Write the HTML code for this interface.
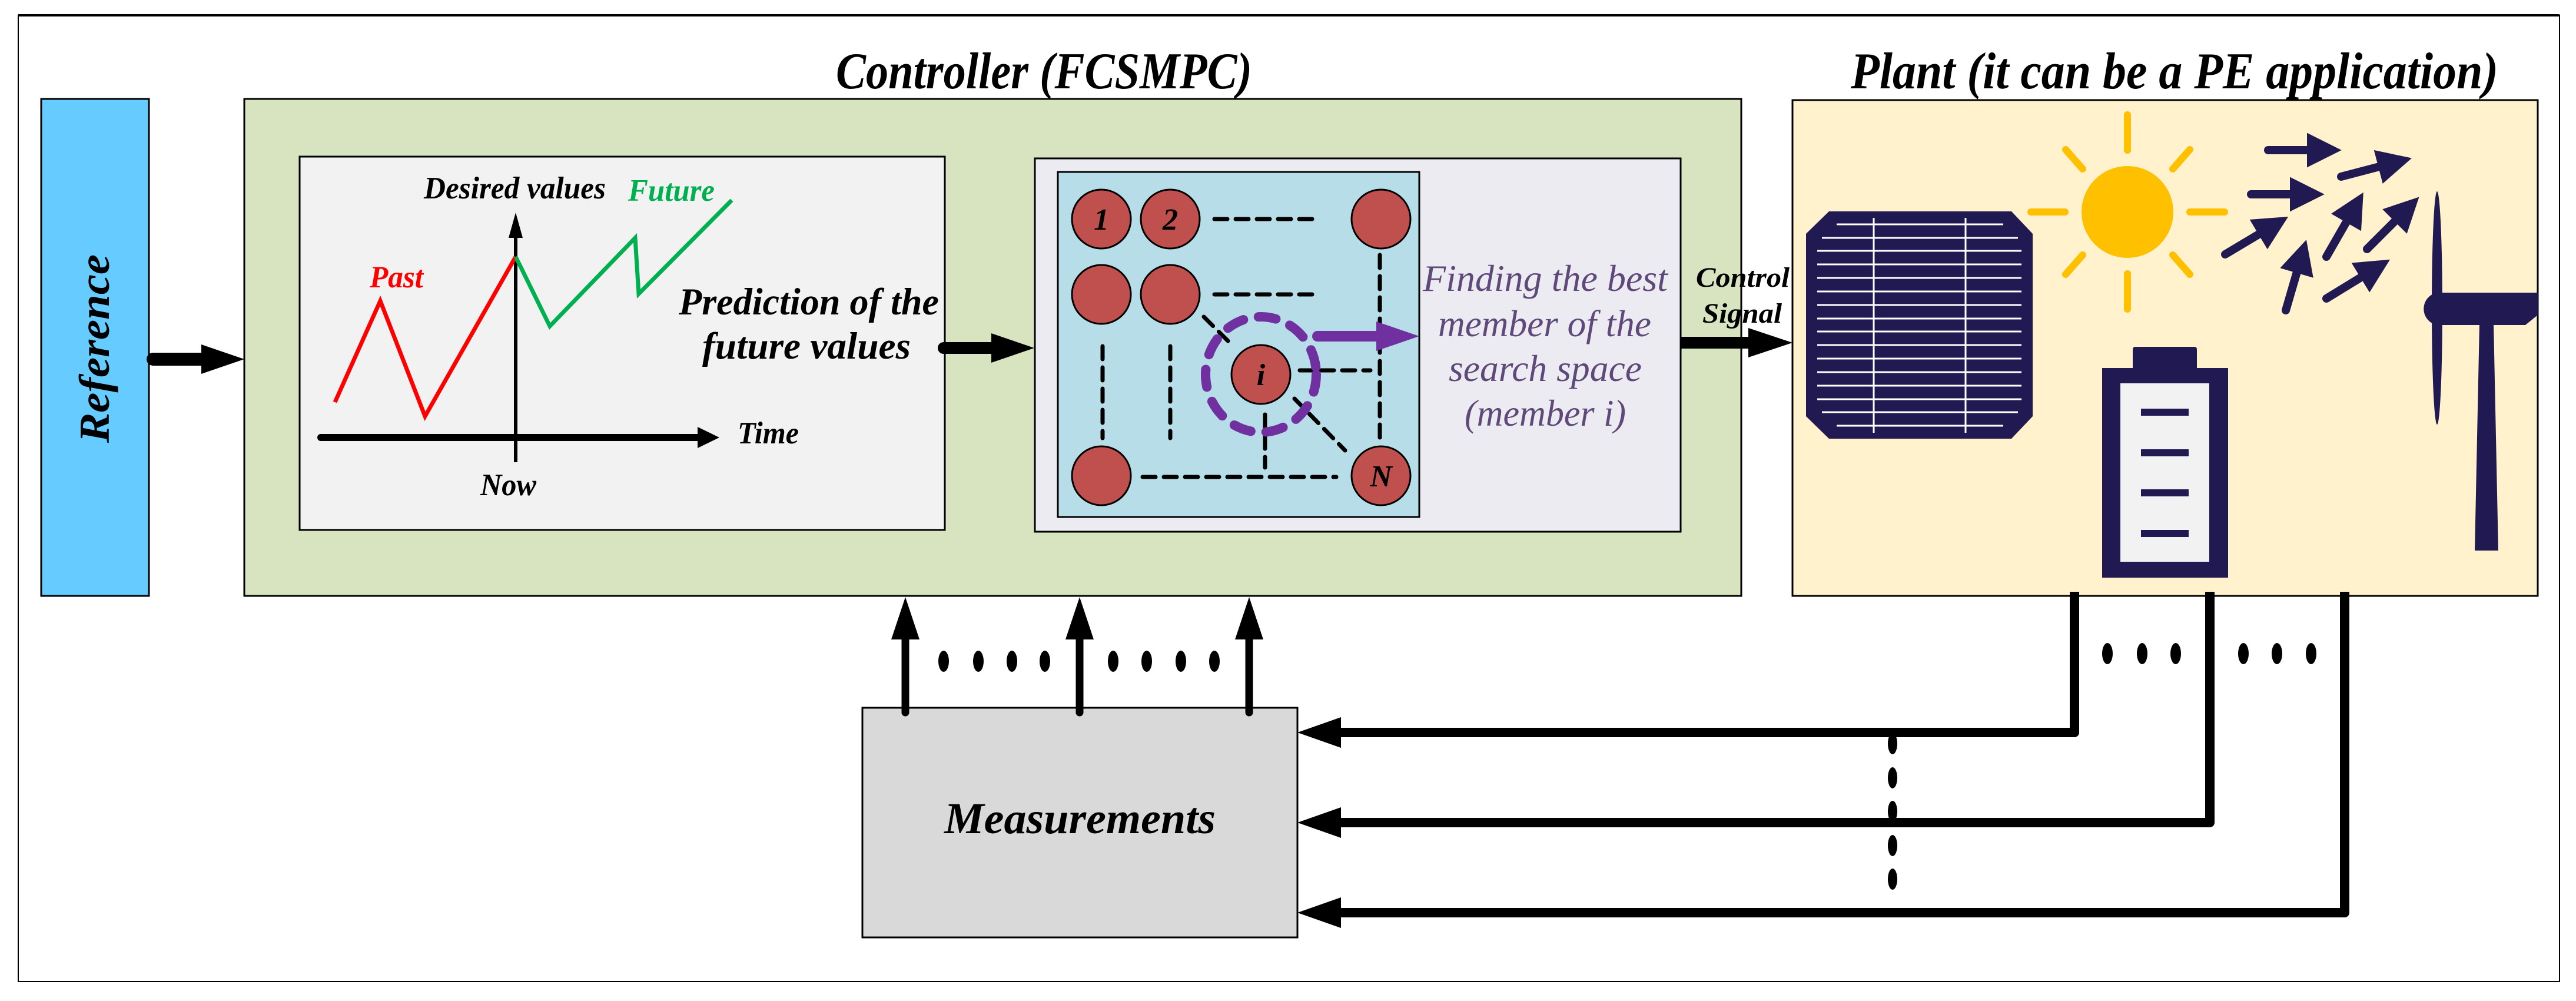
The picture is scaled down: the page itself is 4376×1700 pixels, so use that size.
<!DOCTYPE html>
<html><head><meta charset="utf-8"><style>html,body{margin:0;padding:0;background:#fff}svg{display:block}text{font-family:"Liberation Serif","Times New Roman",serif;font-style:italic;font-weight:bold}text.n{font-weight:normal}</style></head><body>
<svg width="4376" height="1700" viewBox="0 0 4376 1700" xmlns="http://www.w3.org/2000/svg" font-family="Liberation Serif, serif">
<rect x="31" y="26" width="4317" height="1641" fill="#fff" stroke="#000" stroke-width="2"/>
<line x1="31" y1="26" x2="4348" y2="26" stroke="#000" stroke-width="4"/>
<!-- Reference -->
<rect x="70" y="168" width="183" height="844" fill="#66ccff" stroke="#000" stroke-width="3"/>
<text transform="translate(185,752) rotate(-90)" font-size="73" textLength="320" lengthAdjust="spacingAndGlyphs">Reference</text>
<!-- titles -->
<text x="1420" y="150" font-size="88" textLength="707" lengthAdjust="spacingAndGlyphs">Controller (FCSMPC)</text>
<text x="3144" y="150" font-size="88" textLength="1100" lengthAdjust="spacingAndGlyphs">Plant (it can be a PE application)</text>
<!-- controller -->
<rect x="415" y="168" width="2543" height="844" fill="#d8e4bf" stroke="#000" stroke-width="3"/>
<rect x="3045" y="170" width="1266" height="842" fill="#fff2cc" stroke="#000" stroke-width="3"/>
<!-- left inner -->
<rect x="509" y="266" width="1096" height="634" fill="#f2f2f2" stroke="#000" stroke-width="3"/>
<line x1="876" y1="400" x2="876" y2="785" stroke="#000" stroke-width="6"/>
<polygon points="876,361 864,404 888,404" fill="#000"/>
<line x1="545" y1="743" x2="1190" y2="743" stroke="#000" stroke-width="12" stroke-linecap="round"/>
<polygon points="1222,743 1185,725 1185,761" fill="#000"/>
<polyline points="569,683 646,511 722,707 876,436" fill="none" stroke="#ff0000" stroke-width="7"/>
<polyline points="876,436 934,554 1079,404 1085,499 1243,340" fill="none" stroke="#00b050" stroke-width="7"/>
<text x="720" y="337" font-size="53" textLength="309" lengthAdjust="spacingAndGlyphs">Desired values</text>
<text x="1067" y="341" font-size="53" fill="#00b050" textLength="147" lengthAdjust="spacingAndGlyphs">Future</text>
<text x="628" y="488" font-size="53" fill="#ff0000" textLength="91" lengthAdjust="spacingAndGlyphs">Past</text>
<text x="1253" y="753" font-size="53" textLength="104" lengthAdjust="spacingAndGlyphs">Time</text>
<text x="816" y="841" font-size="53" textLength="95" lengthAdjust="spacingAndGlyphs">Now</text>
<text x="1153" y="534" font-size="65" textLength="442" lengthAdjust="spacingAndGlyphs">Prediction of the</text>
<text x="1193" y="609" font-size="65" textLength="354" lengthAdjust="spacingAndGlyphs">future values</text>
<!-- arrows -->
<line x1="260" y1="610" x2="345" y2="610" stroke="#000" stroke-width="22" stroke-linecap="round"/>
<polygon points="342,585 415,610 342,635" fill="#000"/>
<line x1="1603" y1="591" x2="1690" y2="591" stroke="#000" stroke-width="20" stroke-linecap="round"/>
<polygon points="1684,566 1757,591 1684,616" fill="#000"/>
<line x1="2852" y1="582" x2="2975" y2="582" stroke="#000" stroke-width="20" stroke-linecap="round"/>
<polygon points="2970,557 3045,582 2970,607" fill="#000"/>
<text x="2881" y="487" font-size="48" textLength="159" lengthAdjust="spacingAndGlyphs">Control</text>
<text x="2892" y="548" font-size="48" textLength="135" lengthAdjust="spacingAndGlyphs">Signal</text>
<!-- right inner -->
<rect x="1758" y="269" width="1097" height="634" fill="#edebf2" stroke="#000" stroke-width="3"/>
<rect x="1797" y="292" width="614" height="586" fill="#b7dde8" stroke="#000" stroke-width="3"/>
<g stroke="#000" stroke-width="7" stroke-dasharray="22,14" fill="none" stroke-linecap="round">
<line x1="2063" y1="372" x2="2241" y2="372"/>
<line x1="2063" y1="500" x2="2241" y2="500"/>
<line x1="2344" y1="433" x2="2344" y2="746"/>
<line x1="1873" y1="588" x2="1873" y2="744"/>
<line x1="1988" y1="588" x2="1988" y2="744"/>
<line x1="1941" y1="810" x2="2270" y2="810"/>
<line x1="2045" y1="538" x2="2088" y2="581"/>
<line x1="2208" y1="629" x2="2328" y2="629"/>
<line x1="2149" y1="704" x2="2149" y2="794"/>
<line x1="2199" y1="677" x2="2285" y2="765"/>
</g>
<g fill="#c0504d" stroke="#000" stroke-width="3">
<circle cx="1871" cy="372" r="50"/><circle cx="1988" cy="372" r="50"/><circle cx="2346" cy="372" r="50"/>
<circle cx="1871" cy="500" r="50"/><circle cx="1988" cy="500" r="50"/>
<circle cx="2142" cy="636" r="50"/>
<circle cx="1871" cy="808" r="50"/><circle cx="2346" cy="808" r="50"/>
</g>
<g font-size="52" text-anchor="middle">
<text x="1871" y="390">1</text><text x="1988" y="390">2</text><text x="2142" y="654">i</text><text x="2346" y="826">N</text>
</g>
<ellipse cx="2142" cy="636" rx="94" ry="98" fill="none" stroke="#7030a0" stroke-width="16" stroke-dasharray="30,26" stroke-linecap="round"/>
<line x1="2238" y1="571" x2="2340" y2="571" stroke="#7030a0" stroke-width="18" stroke-linecap="round"/>
<polygon points="2338,546 2411,571 2338,596" fill="#7030a0"/>
<g font-size="64" fill="#5f497a">
<text class="n" x="2417" y="494" textLength="416" lengthAdjust="spacingAndGlyphs">Finding the best</text>
<text class="n" x="2443" y="571" textLength="362" lengthAdjust="spacingAndGlyphs">member of the</text>
<text class="n" x="2461" y="647" textLength="328" lengthAdjust="spacingAndGlyphs">search space</text>
<text class="n" x="2488" y="723" textLength="274" lengthAdjust="spacingAndGlyphs">(member i)</text>
</g>
<!-- solar panel -->
<polygon points="3107,359 3417,359 3453,397 3453,707 3417,745 3107,745 3068,707 3068,397" fill="#211a52"/>
<g stroke="#fff" stroke-width="3">
<line x1="3120" y1="381" x2="3403" y2="381"/><line x1="3095" y1="404" x2="3428" y2="404"/>
<line x1="3087" y1="426" x2="3434" y2="426"/><line x1="3087" y1="449" x2="3434" y2="449"/>
<line x1="3087" y1="472" x2="3434" y2="472"/><line x1="3087" y1="495" x2="3434" y2="495"/>
<line x1="3087" y1="518" x2="3434" y2="518"/><line x1="3087" y1="541" x2="3434" y2="541"/>
<line x1="3087" y1="563" x2="3434" y2="563"/><line x1="3087" y1="586" x2="3434" y2="586"/>
<line x1="3087" y1="609" x2="3434" y2="609"/><line x1="3087" y1="632" x2="3434" y2="632"/>
<line x1="3087" y1="655" x2="3434" y2="655"/><line x1="3087" y1="678" x2="3434" y2="678"/>
<line x1="3095" y1="700" x2="3428" y2="700"/><line x1="3120" y1="723" x2="3403" y2="723"/>
<line x1="3183" y1="370" x2="3183" y2="735"/><line x1="3339" y1="370" x2="3339" y2="735"/>
</g>
<!-- sun -->
<circle cx="3614" cy="360" r="78" fill="#ffc000"/>
<g stroke="#ffc000" stroke-width="12" stroke-linecap="round">
<line x1="3614" y1="195" x2="3614" y2="255"/><line x1="3614" y1="465" x2="3614" y2="525"/>
<line x1="3450" y1="360" x2="3508" y2="360"/><line x1="3720" y1="360" x2="3779" y2="360"/>
<line x1="3509" y1="254" x2="3538" y2="287"/><line x1="3720" y1="254" x2="3691" y2="287"/>
<line x1="3509" y1="466" x2="3538" y2="433"/><line x1="3720" y1="466" x2="3691" y2="433"/>
</g>
<!-- wind arrows -->
<defs><marker id="ah" viewBox="0 0 10 10" refX="7" refY="5" markerWidth="4.2" markerHeight="4.2" orient="auto"><path d="M0,0 L10,5 L0,10 z" fill="#211a52"/></marker></defs>
<g stroke="#211a52" stroke-width="14" stroke-linecap="round" marker-end="url(#ah)">
<line x1="3853" y1="255" x2="3960" y2="255"/>
<line x1="3977" y1="300" x2="4080" y2="273"/>
<line x1="3824" y1="330" x2="3931" y2="330"/>
<line x1="3780" y1="432" x2="3872" y2="377"/>
<line x1="3952" y1="436" x2="4006" y2="342"/>
<line x1="4021" y1="423" x2="4097" y2="347"/>
<line x1="3883" y1="527" x2="3913" y2="424"/>
<line x1="3952" y1="507" x2="4045" y2="450"/>
</g>
<!-- turbine -->
<polygon points="4212,550 4236,550 4244,935 4204,935" fill="#211a52"/>
<ellipse cx="4140" cy="523" rx="9" ry="198" fill="#211a52"/>
<path d="M4140,497 L4311,497 L4311,535 L4290,552 L4140,552 A28,28 0 0 1 4140,497 z" fill="#211a52"/>
<!-- battery -->
<rect x="3623" y="589" width="109" height="40" rx="4" fill="#211a52"/>
<rect x="3571" y="625" width="214" height="356" fill="#211a52"/>
<rect x="3602" y="651" width="151" height="303" fill="#f2f2f2"/>
<g fill="#211a52"><rect x="3637" y="694" width="81" height="12"/><rect x="3637" y="763" width="81" height="12"/><rect x="3637" y="831" width="81" height="12"/><rect x="3637" y="900" width="81" height="12"/></g>
<!-- measurements -->
<rect x="1465" y="1202" width="739" height="390" fill="#d9d9d9" stroke="#000" stroke-width="3"/>
<text x="1604" y="1415" font-size="75" textLength="461" lengthAdjust="spacingAndGlyphs">Measurements</text>
<g stroke="#000" stroke-width="13" stroke-linecap="round">
<line x1="1538" y1="1080" x2="1538" y2="1210"/><line x1="1834" y1="1080" x2="1834" y2="1210"/><line x1="2122" y1="1080" x2="2122" y2="1210"/>
</g>
<g fill="#000">
<polygon points="1538,1014 1514,1086 1562,1086"/><polygon points="1834,1014 1810,1086 1858,1086"/><polygon points="2122,1014 2098,1086 2146,1086"/>
</g>
<g fill="#000">
<ellipse cx="1603" cy="1123" rx="9" ry="18"/><ellipse cx="1662" cy="1123" rx="9" ry="18"/><ellipse cx="1719" cy="1123" rx="9" ry="18"/><ellipse cx="1775" cy="1123" rx="9" ry="18"/>
<ellipse cx="1891" cy="1123" rx="9" ry="18"/><ellipse cx="1948" cy="1123" rx="9" ry="18"/><ellipse cx="2006" cy="1123" rx="9" ry="18"/><ellipse cx="2063" cy="1123" rx="9" ry="18"/>
<ellipse cx="3580" cy="1110" rx="9" ry="18"/><ellipse cx="3639" cy="1110" rx="9" ry="18"/><ellipse cx="3696" cy="1110" rx="9" ry="18"/>
<ellipse cx="3811" cy="1110" rx="9" ry="18"/><ellipse cx="3868" cy="1110" rx="9" ry="18"/><ellipse cx="3926" cy="1110" rx="9" ry="18"/>
<ellipse cx="3215" cy="1263" rx="8" ry="18"/><ellipse cx="3215" cy="1321" rx="8" ry="18"/><ellipse cx="3215" cy="1378" rx="8" ry="18"/><ellipse cx="3215" cy="1436" rx="8" ry="18"/><ellipse cx="3215" cy="1493" rx="8" ry="18"/>
</g>
<g fill="none" stroke="#000" stroke-width="16" stroke-linejoin="round">
<polyline points="3524,1005 3524,1244 2270,1244"/>
<polyline points="3754,1005 3754,1397 2270,1397"/>
<polyline points="3983,1005 3983,1550 2270,1550"/>
</g>
<g fill="#000">
<polygon points="2204,1244 2278,1218 2278,1270"/>
<polygon points="2204,1397 2278,1371 2278,1423"/>
<polygon points="2204,1550 2278,1524 2278,1576"/>
</g>
</svg>
</body></html>
